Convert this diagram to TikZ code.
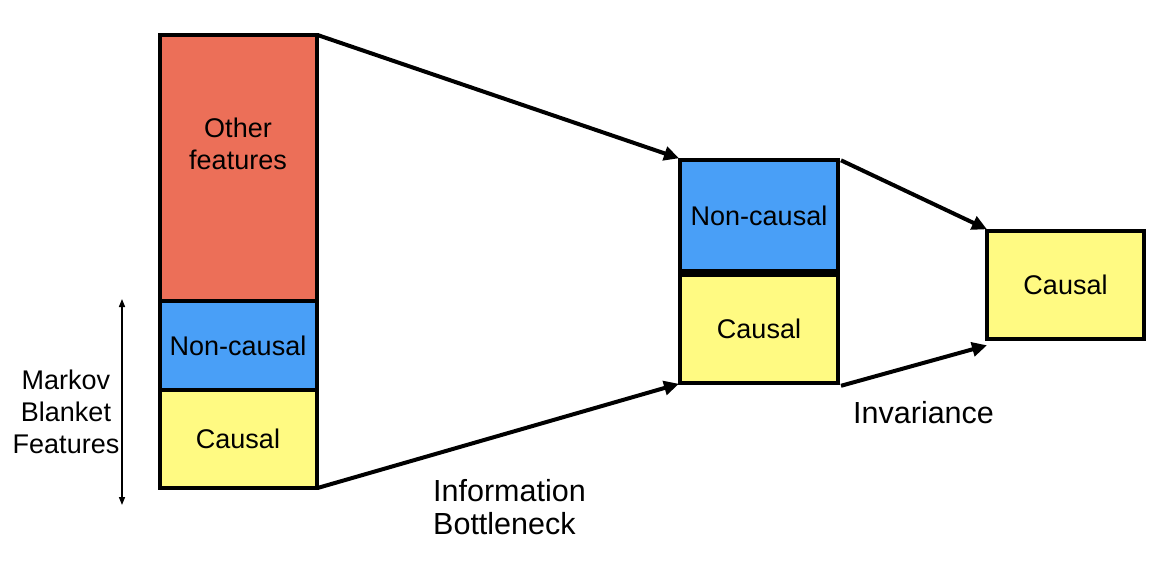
\documentclass[tikz,border=0pt]{standalone}
\usepackage{fontspec}
\setmainfont{Liberation Sans}
\usetikzlibrary{arrows.meta,calc}
\definecolor{redf}{RGB}{236,111,88}
\definecolor{bluef}{RGB}{73,159,247}
\definecolor{yelf}{RGB}{255,250,130}
\begin{document}
\begin{tikzpicture}[x=1pt,y=-1pt,
  box/.style={draw=black,line width=4pt,inner sep=0pt,outer sep=0pt,align=center,
    font=\fontsize{27}{32}\selectfont},
  conn/.style={line width=4pt,-{Triangle[length=15pt,width=14pt]}},
  lbl/.style={inner sep=0pt,font=\fontsize{27}{32}\selectfont},
  biglbl/.style={inner sep=0pt,font=\fontsize{30.5}{33.5}\selectfont}]
\useasboundingbox (0,0) rectangle (1158,580);
% left column
\node[box,fill=redf,minimum width=157pt,minimum height=266pt] (Lo) at (238,168) {};
\node[lbl,align=center] (Lot) at (238,144) {Other\\features};
\node[box,fill=bluef,minimum width=157pt,minimum height=89pt] (Ln) at (238,345.5) {Non-causal};
\node[box,fill=yelf,minimum width=157pt,minimum height=98pt] (Lc) at (238,439) {Causal};
% middle column
\node[box,fill=bluef,minimum width=158pt,minimum height=111pt] (Mn) at (759,215.8) {Non-causal};
\node[box,fill=yelf,minimum width=158pt,minimum height=108pt] (Mc) at (759,328.8) {Causal};
% right box
\node[box,fill=yelf,minimum width=157pt,minimum height=108pt] (R) at (1065.5,285.3) {Causal};
% connectors
\draw[conn] ([xshift=1pt]Lo.north east) -- ([xshift=-1pt,yshift=2pt]Mn.north west);
\draw[conn] ([xshift=1pt]Lc.south east) -- ([xshift=-1pt,yshift=-1pt]Mc.south west);
\draw[conn] ([xshift=3pt]Mn.north east) -- ([yshift=2pt]R.north west);
\draw[conn] ([xshift=3pt,yshift=-3pt]Mc.south east) -- ([yshift=-6pt]R.south west);
% Markov blanket arrow
\coordinate (mbt) at (122,299);
\coordinate (mbb) at (122,505);
\draw[line width=1.5pt,{Triangle[length=8pt,width=6pt]}-{Triangle[length=8pt,width=6pt]}] (mbt) -- (mbb);
% labels
\node[lbl,align=center] (mb) at (66,412) {Markov\\Blanket\\Features};
\node[biglbl,align=left,anchor=west] (ib) at (433,507) {Information\\Bottleneck};
\node[biglbl,anchor=west] (inv) at (853,413) {Invariance};
\end{tikzpicture}
\end{document}
